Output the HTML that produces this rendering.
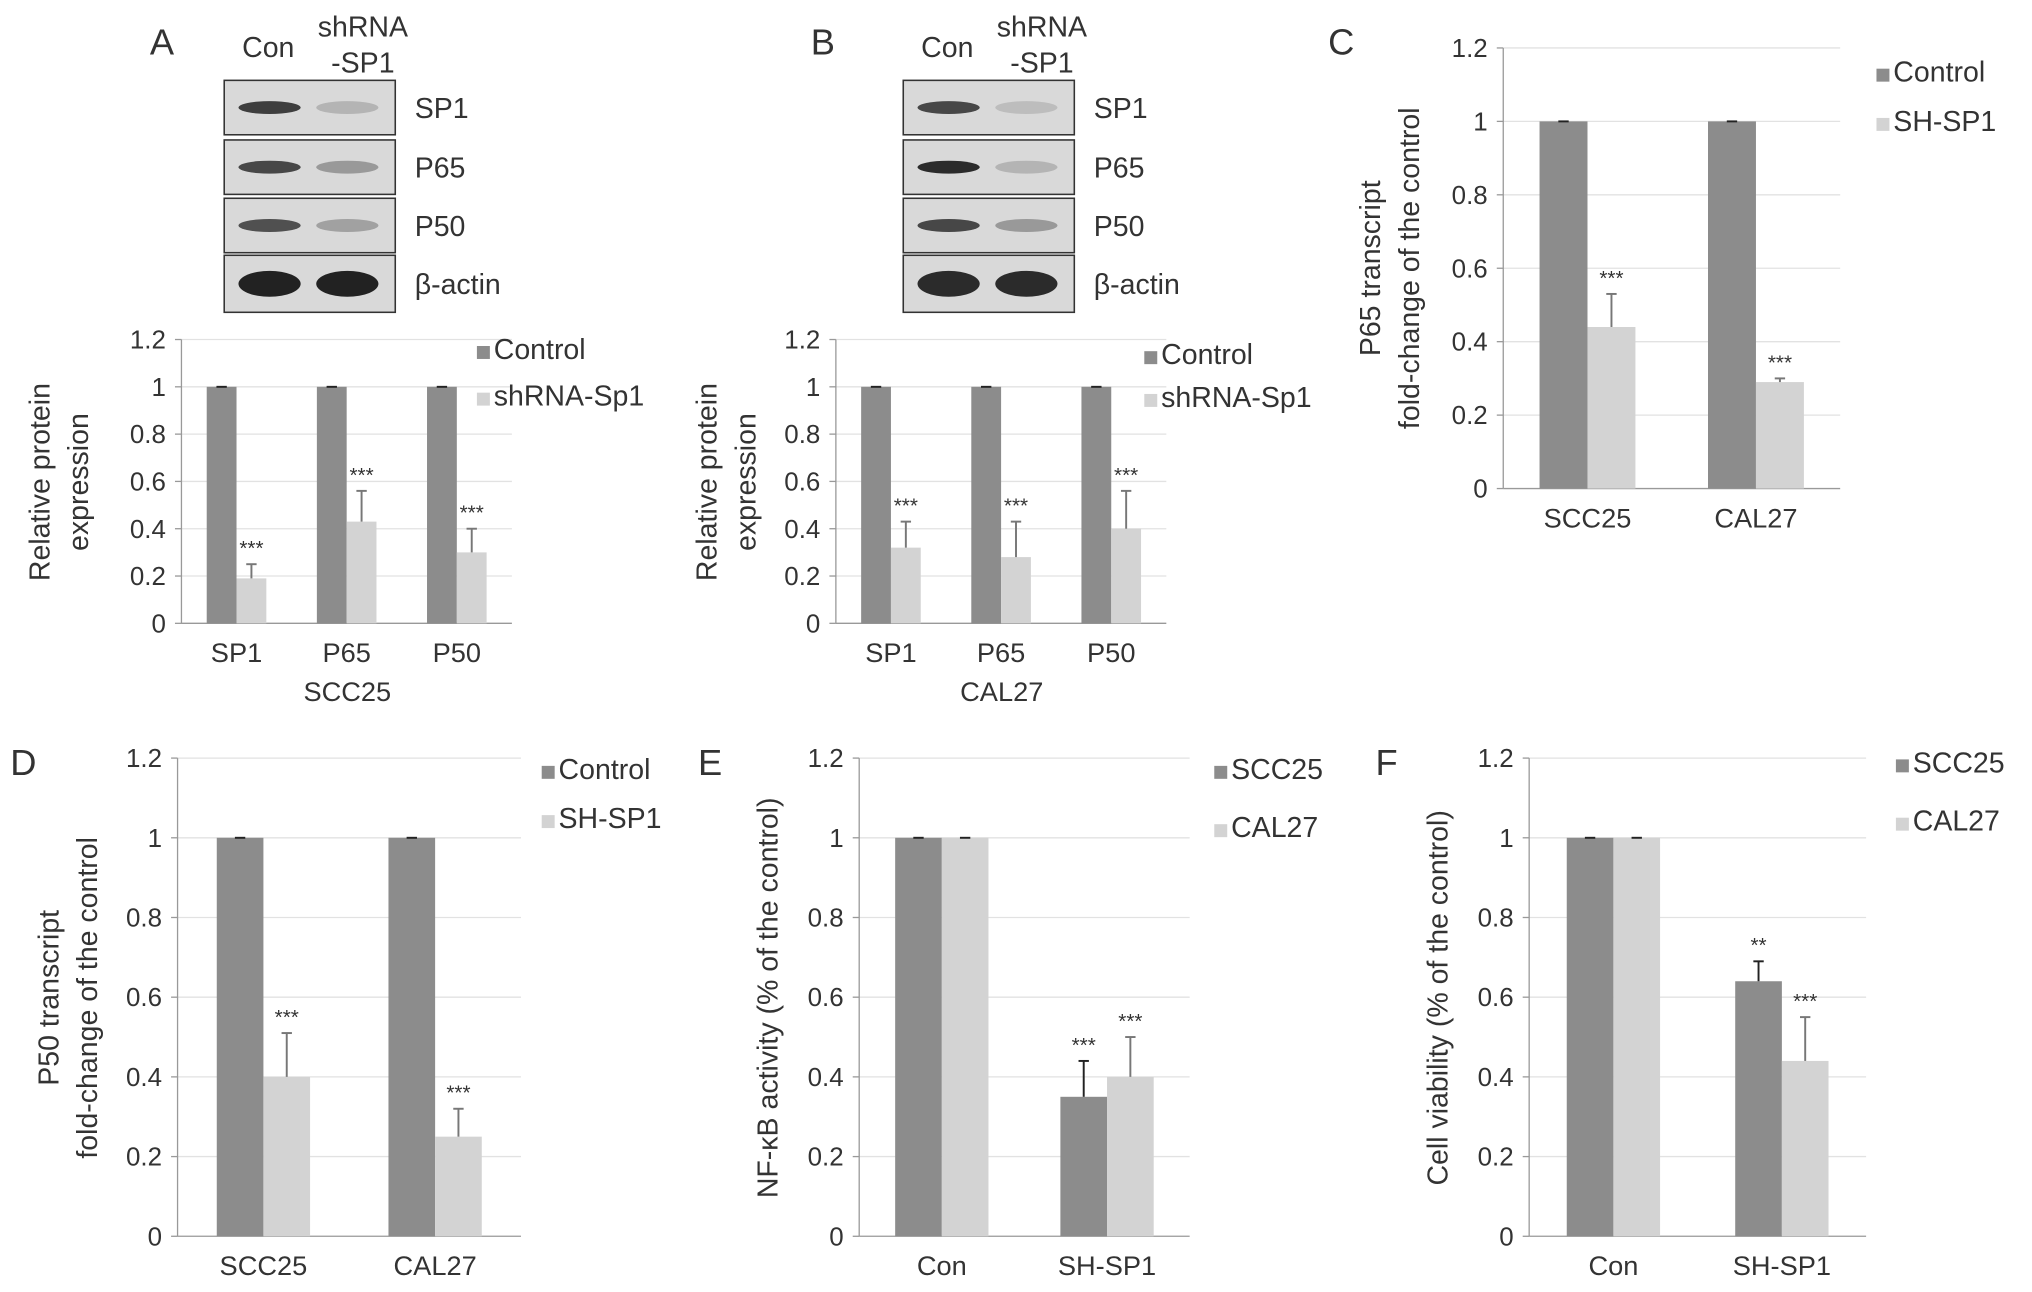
<!DOCTYPE html>
<html><head><meta charset="utf-8"><style>
html,body{margin:0;padding:0;background:#fff;}
svg{display:block;font-family:"Liberation Sans",sans-serif;}
</style></head><body>
<svg id="fig" width="2032" height="1292" viewBox="0 0 1568 997" xmlns="http://www.w3.org/2000/svg"></svg>
<script>
// ---- data ----
const catsA = ["SP1","P65","P50"];
const ctrlA = [1,1,1];
const shA = [0.19,0.43,0.30];
const shErrA = [0.25,0.56,0.40];
const catsB = ["SP1","P65","P50"];
const ctrlB = [1,1,1];
const shB = [0.32,0.28,0.40];
const shErrB = [0.43,0.43,0.56];
const catsC = ["SCC25","CAL27"];
const ctrlC = [1,1];
const shC = [0.44,0.29];
const shErrC = [0.53,0.30];
const catsD = ["SCC25","CAL27"];
const ctrlD = [1,1];
const shD = [0.40,0.25];
const shErrD = [0.51,0.32];
const catsE = ["Con","SH-SP1"];
const sccE = [1,0.35];
const sccErrE = [1,0.44];
const calE = [1,0.40];
const calErrE = [1,0.50];
const catsF = ["Con","SH-SP1"];
const sccF = [1,0.64];
const sccErrF = [1,0.69];
const calF = [1,0.44];
const calErrF = [1,0.55];
const yTicks = [0,0.2,0.4,0.6,0.8,1,1.2];

const NS="http://www.w3.org/2000/svg";
const svg=document.getElementById('fig');
const DARK="#8c8c8c", LIGHT="#d3d3d3", TXT="#333";
function el(t,a,p){const e=document.createElementNS(NS,t);for(const k in a)e.setAttribute(k,a[k]);(p||svg).appendChild(e);return e;}
function txt(x,y,s,size,anchor,p,rot){const e=el('text',{x:x,y:y,'font-size':size,fill:TXT,'text-anchor':anchor||'middle'},p);if(rot)e.setAttribute('transform',`rotate(-90 ${x} ${y})`);e.textContent=s;return e;}

function panel(o){
  const g=el('g',{});
  
  
  const y=v=>o.y0-(o.y0-o.ytop)*v/1.2;
  const ax=el('g',{},g);
  
  
  yTicks.forEach(t=>{
    el('line',{x1:o.x0,x2:o.x1,y1:y(t),y2:y(t),stroke:t===0?'#999':'#e2e2e2','stroke-width':1},ax);
    el('line',{x1:o.x0-5,x2:o.x0,y1:y(t),y2:y(t),stroke:'#999'},ax);
    const lb=txt(o.x0-12,y(t)+7,String(t),o.fs,'end',ax);
    
    
  });
  el('line',{x1:o.x0,x2:o.x0,y1:y(0),y2:y(1.2),stroke:'#999'},ax);
  const step=(o.x1-o.x0)/o.cats.length;
  o.cats.forEach((c,i)=>{
    const cx=o.x0+step*(i+0.5);
    [[o.s1,o.e1,DARK,-1,o.st1],[o.s2,o.e2,LIGHT,0,o.st2]].forEach(([s,e,col,off,st],k)=>{
      const bx=cx+off*o.bw;
      const r=el('rect',{x:bx,y:y(s[i]),width:o.bw,height:y(0)-y(s[i]),fill:col},g);
      
      
      const ex=bx+o.bw/2;
      if(e[i]>s[i]+0.005){
        el('line',{x1:ex,x2:ex,y1:y(s[i]),y2:y(e[i]),stroke:k?'#777':'#222','stroke-width':1.5},g);
        el('line',{x1:ex-4,x2:ex+4,y1:y(e[i]),y2:y(e[i]),stroke:k?'#777':'#222','stroke-width':1.5},g);
      } else el('line',{x1:ex-4,x2:ex+4,y1:y(s[i]),y2:y(s[i]),stroke:'#222','stroke-width':1.5},g);
      if(st&&st[i]){const a=txt(ex,y(e[i])-7,st[i],o.fs*0.8,'middle',g);}
    });
    const xl=txt(cx,o.y0+30,c,o.fs+1,'middle',g);
    
    
  });
  o.leg.forEach((l,i)=>{
    const lg=el('g',{},g);
    
    
    el('rect',{x:o.lx,y:o.ly[i]-9,width:10,height:10,fill:i?LIGHT:DARK},lg);
    txt(o.lx+13,o.ly[i]+1,l,o.fs+2,'start',lg);
  });
  o.title.forEach((t,i)=>{const tt=txt(o.tx[i],o.ty,t,o.fs+2,'middle',g,true);});
  if(o.xt){const xt=txt(o.xtx,o.y0+60,o.xt,o.fs+1,'middle',g);}
  const L=txt(o.L[1],o.L[2],o.L[0],28,'middle',g);
  
  
}
const st3=["***","***","***"];
panel({name:'panel-a-chart',cats:catsA,s1:ctrlA,e1:ctrlA,s2:shA,e2:shErrA,st2:st3,x0:140,x1:395,y0:481,ytop:262,bw:23,fs:20,
  leg:["Control","shRNA-Sp1"],lx:368,ly:[276,312],title:["Relative protein","expression"],tx:[38,68],ty:372,xt:"SCC25",xtx:268,L:["A",125,42]});
panel({name:'panel-b-chart',cats:catsB,s1:ctrlB,e1:ctrlB,s2:shB,e2:shErrB,st2:st3,x0:645,x1:900,y0:481,ytop:262,bw:23,fs:20,
  leg:["Control","shRNA-Sp1"],lx:883,ly:[280,313],title:["Relative protein","expression"],tx:[553,583],ty:372,xt:"CAL27",xtx:773,L:["B",635,42]});
panel({name:'panel-c-chart',cats:catsC,s1:ctrlC,e1:ctrlC,s2:shC,e2:shErrC,st2:["***","***"],x0:1160,x1:1420,y0:377,ytop:37,bw:37,fs:20,
  leg:["Control","SH-SP1"],lx:1448,ly:[62,100],title:["P65 transcript","fold-change of the control"],tx:[1065,1095],ty:207,L:["C",1035,42]});
panel({name:'panel-d-chart',cats:catsD,s1:ctrlD,e1:ctrlD,s2:shD,e2:shErrD,st2:["***","***"],x0:137,x1:402,y0:954,ytop:585,bw:36,fs:20,
  leg:["Control","SH-SP1"],lx:418,ly:[600,638],title:["P50 transcript","fold-change of the control"],tx:[45,75],ty:770,L:["D",18,598]});
panel({name:'panel-e-chart',cats:catsE,s1:sccE,e1:sccErrE,s2:calE,e2:calErrE,st1:["","***"],st2:["","***"],x0:663,x1:918,y0:954,ytop:585,bw:36,fs:20,
  leg:["SCC25","CAL27"],lx:937,ly:[600,645],title:["NF-κB activity (% of the control)"],tx:[600],ty:770,L:["E",548,598]});
panel({name:'panel-f-chart',cats:catsF,s1:sccF,e1:sccErrF,s2:calF,e2:calErrF,st1:["","**"],st2:["","***"],x0:1180,x1:1440,y0:954,ytop:585,bw:36,fs:20,
  leg:["SCC25","CAL27"],lx:1463,ly:[595,640],title:["Cell viability (% of the control)"],tx:[1117],ty:770,L:["F",1070,598]});

// ---- western blots ----
function blot(name,x,bands,labels){
  const g=el('g',{});
  
  
  const rows=[[62,42],[108,42],[153,42],[197,44]];
  rows.forEach(([ry,rh],i)=>{
    el('rect',{x:x,y:ry,width:132,height:rh,fill:'#d9d9d9',stroke:'#333','stroke-width':1.2},g);
    const [a,b]=bands[i];
    el('ellipse',{cx:x+35,cy:ry+rh/2,rx:24,ry:i===3?10:5,fill:'#222',opacity:a},g);
    el('ellipse',{cx:x+95,cy:ry+rh/2,rx:24,ry:i===3?10:5,fill:'#222',opacity:b},g);
    const t=txt(x+147,ry+rh/2+8,labels[i],22,'start',g);
    
    
  });
  txt(x+34,44,"Con",22,'middle',g);
  txt(x+107,28,"shRNA",22,'middle',g);
  txt(x+107,56,"-SP1",22,'middle',g);
}
const lbls=["SP1","P65","P50","β-actin"];
blot('blot-a',173,[[0.85,0.2],[0.8,0.35],[0.75,0.3],[1,1]],lbls);
blot('blot-b',697,[[0.8,0.15],[0.95,0.2],[0.8,0.35],[0.95,0.95]],lbls);
</script>
</body></html>
